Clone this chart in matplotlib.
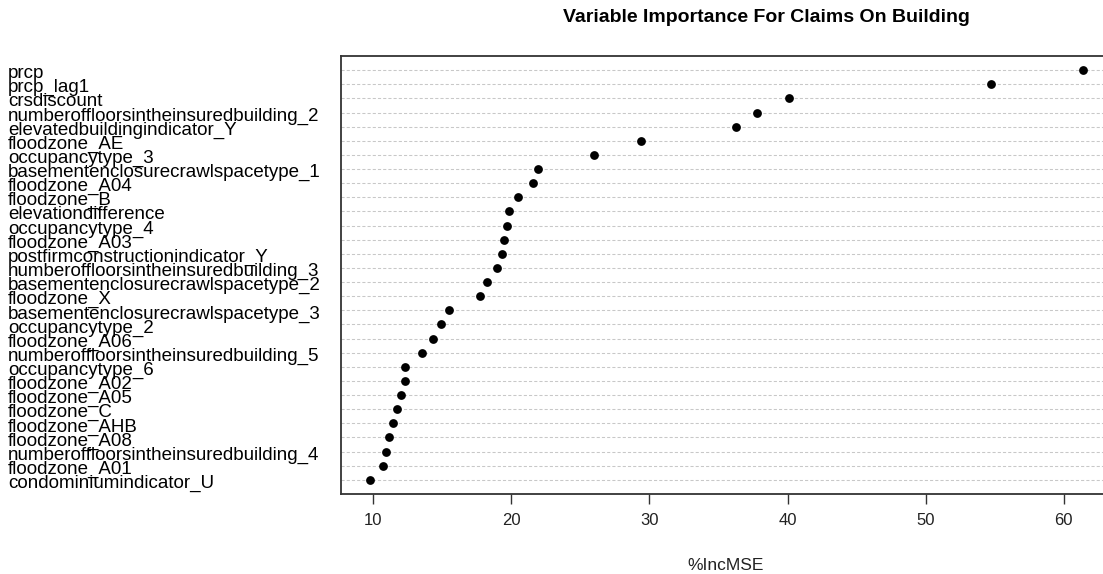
import numpy as np
import matplotlib
matplotlib.use("Agg")
import matplotlib.pyplot as plt
from matplotlib.transforms import blended_transform_factory, ScaledTranslation

plt.rcParams['font.family'] = ['Liberation Sans', 'DejaVu Sans']

# variables, top to bottom as in the plot
variables = [
    "prcp", "prcp_lag1", "crsdiscount",
    "numberoffloorsintheinsuredbuilding_2", "elevatedbuildingindicator_Y",
    "floodzone_AE", "occupancytype_3", "basementenclosurecrawlspacetype_1",
    "floodzone_A04", "floodzone_B", "elevationdifference", "occupancytype_4",
    "floodzone_A03", "postfirmconstructionindicator_Y",
    "numberoffloorsintheinsuredbuilding_3", "basementenclosurecrawlspacetype_2",
    "floodzone_X", "basementenclosurecrawlspacetype_3", "occupancytype_2",
    "floodzone_A06", "numberoffloorsintheinsuredbuilding_5", "occupancytype_6",
    "floodzone_A02", "floodzone_A05", "floodzone_C", "floodzone_AHB",
    "floodzone_A08", "numberoffloorsintheinsuredbuilding_4", "floodzone_A01",
    "condominiumindicator_U",
]
inc_mse = [
    61.4, 54.7, 40.1, 37.8, 36.3, 29.4, 26.0, 21.9, 21.6, 20.5,
    19.8, 19.7, 19.45, 19.3, 18.95, 18.2, 17.7, 15.5, 14.9, 14.35,
    13.55, 12.3, 12.3, 12.0, 11.7, 11.4, 11.15, 10.95, 10.7, 9.75,
]
xticks = [10, 20, 30, 40, 50, 60]

W, H = 1103, 574
fig = plt.figure(figsize=(W / 100, H / 100), dpi=100)
left, right, top, bottom = 340.7, 1111, 56, 494
ax = fig.add_axes([left / W, 1 - bottom / H, (right - left) / W, (bottom - top) / H])

n = len(variables)
ypos = np.arange(n, 0, -1)

for y in ypos:
    ax.axhline(y, color='#c8c8c8', lw=0.75, linestyle=(0, (3, 2)), zorder=1)
ax.scatter(inc_mse, ypos, s=40, color='black', zorder=3, linewidths=0)

ax.set_xlim(7.64, 63.42)
ax.set_ylim(0, n + 1)
ax.set_yticks([])
ax.set_xticks(xticks)
ax.tick_params(axis='x', length=7.2, width=1.0, color='#333333',
               labelsize=12, pad=6.3, labelcolor='#222222')
for sp in ax.spines.values():
    sp.set_color('#333333')
    sp.set_linewidth(1.3)

# labels left-aligned at the figure edge
trans = blended_transform_factory(fig.transFigure, ax.transData) + \
    ScaledTranslation(0, -8 / 100, fig.dpi_scale_trans)
for lab, y in zip(variables, ypos):
    ax.text(8 / W, y, lab, transform=trans, ha='left', va='baseline',
            fontsize=13.5, color='black', clip_on=False)

ax.set_xlabel('%IncMSE', fontsize=12.5, labelpad=22, color='#222222')
fig.text(766 / W, 1 - 18 / H, 'Variable Importance For Claims On Building',
         ha='center', va='center', fontsize=14, fontweight='bold')

fig.savefig('out.png', dpi=100)
